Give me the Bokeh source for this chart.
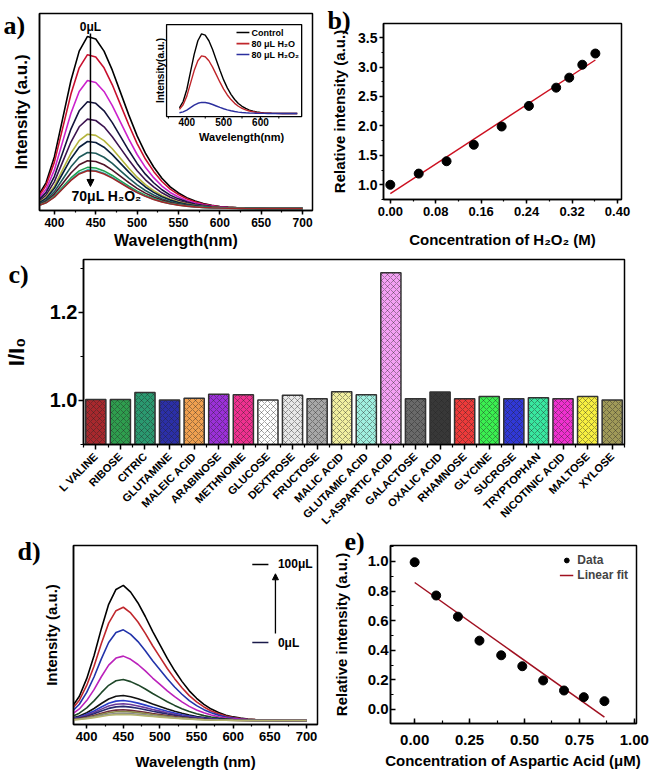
import math
from bokeh.plotting import figure
from bokeh.models import (Range1d, SingleIntervalTicker, FixedTicker, Label, Arrow,
                          NormalHead, Legend, LegendItem, ColumnDataSource,
                          PrintfTickFormatter, GridBox)
from bokeh.core.properties import value
from bokeh.embed import file_html
from bokeh.resources import INLINE

FONT = "Liberation Sans"
SERIF = "Liberation Serif"

# ---------------- data ----------------
wavelength = list(range(380, 701, 10))
# normalised emission profile (top curve)
a_shape = [0.07, 0.15, 0.30, 0.52, 0.74, 0.91, 0.995, 0.98, 0.91, 0.80, 0.67,
           0.54, 0.42, 0.32, 0.24, 0.175, 0.125, 0.09, 0.063, 0.043, 0.029,
           0.019, 0.012, 0.008, 0.005, 0.003, 0.002, 0.001, 0.0, 0.0, 0.0, 0.0, 0.0]
a_peaks = [888, 795, 663, 555, 466, 389, 352, 296, 254, 220, 207, 203]
a_base = 10
a_colors = ["#000000", "#c8102e", "#cc22cc", "#14143c", "#3c1450", "#b4b43c",
            "#0a1e3c", "#1e5a5a", "#501428", "#1ea050", "#28b4b4", "#a02828"]

inset_peaks = [902, 663, 155]
inset_base = 33
inset_names = ["Control", "80 \u03bcL H\u2082O", "80 \u03bcL H\u2082O\u2082"]
inset_colors = ["#000000", "#c0262b", "#2b2f9e"]
inset_ticks = [400, 500, 600]
inset_minor = [350, 450, 550, 650]

b_x = [0.0, 0.050, 0.099, 0.147, 0.196, 0.244, 0.292, 0.315, 0.338, 0.361]
b_y = [1.00, 1.19, 1.40, 1.68, 1.99, 2.34, 2.65, 2.82, 3.04, 3.23]
b_fit_x = [0.0, 0.361]
b_fit_y = [0.85, 3.12]

c_cats = ["L VALINE", "RIBOSE", "CITRIC", "GLUTAMINE", "MALEIC ACID", "ARABINOSE",
          "METHNOINE", "GLUCOSE", "DEXTROSE", "FRUCTOSE", "MALIC ACID",
          "GLUTAMIC ACID", "L-ASPARTIC ACID", "GALACTOSE", "OXALIC ACID",
          "RHAMNOSE", "GLYCINE", "SUCROSE", "TRYPTOPHAN", "NICOTINIC ACID",
          "MALTOSE", "XYLOSE"]
c_vals = [1.002, 1.002, 1.018, 1.001, 1.005, 1.014, 1.013, 1.001, 1.012, 1.004,
          1.020, 1.013, 1.290, 1.004, 1.019, 1.004, 1.009, 1.004, 1.006, 1.004,
          1.009, 1.001]
c_colors = ["#a8282d", "#2e9e4e", "#2a9a70", "#2b2fa8", "#f0a050", "#9b30d8",
            "#f03090", "#ffffff", "#e8e8e8", "#a8a8a8", "#f2f0a0", "#a0f0e0",
            "#f4a0f4", "#6a6a6a", "#383838", "#ee3a3a", "#3af050", "#3038d8",
            "#38e8a0", "#f030d0", "#f8f040", "#a09a58"]

d_shape = [0.10, 0.18, 0.31, 0.48, 0.68, 0.86, 0.97, 1.0, 0.95, 0.87, 0.77,
           0.66, 0.56, 0.46, 0.37, 0.29, 0.22, 0.165, 0.12, 0.085, 0.06, 0.04,
           0.027, 0.018, 0.012, 0.008, 0.005, 0.003, 0.002, 0.001, 0.0, 0.0, 0.0]
d_peaks = [777, 655, 529, 382, 251, 162, 134, 116, 101, 82, 73, 63, 56]
d_base = 22
d_colors = ["#000000", "#c0282d", "#2233aa", "#bb22bb", "#1e4628", "#111111",
            "#2a3cc8", "#6a3a9a", "#28286e", "#6e2a3c", "#8a8a46", "#8c8c8c", "#b4b46e"]

e_x = [0.0, 0.098, 0.197, 0.295, 0.394, 0.49, 0.585, 0.68, 0.77, 0.864]
e_y = [0.995, 0.77, 0.627, 0.465, 0.366, 0.292, 0.196, 0.128, 0.083, 0.056]
e_fit_x = [0.0, 0.864]
e_fit_y = [0.858, -0.052]

panel_letters = ["a)", "b)", "c)", "d)", "e)"]


# ---------------- helpers ----------------
def no_align(p):
    try:
        p.frame_align = False
    except Exception:
        pass


def mkfig(w, h, xr, yr, l, r, t, b):
    p = figure(width=w, height=h, x_range=Range1d(*xr), y_range=Range1d(*yr),
               output_backend="svg", toolbar_location=None,
               min_border_left=l, min_border_right=r, min_border_top=t,
               min_border_bottom=b)
    no_align(p)
    p.outline_line_color = "black"
    p.outline_line_width = 1.5
    p.grid.visible = False
    p.background_fill_color = "white"
    p.border_fill_color = "white"
    for ax in p.axis:
        ax.axis_line_width = 1.5
        ax.axis_line_color = "black"
        ax.major_tick_line_width = 1.5
        ax.minor_tick_line_width = 1.2
        ax.major_tick_out = 4
        ax.major_tick_in = 0
        ax.minor_tick_out = 2
        ax.minor_tick_in = 0
        ax.major_label_text_font = FONT
        ax.major_label_text_font_style = "bold"
        ax.major_label_text_color = "black"
        ax.axis_label_text_font = FONT
        ax.axis_label_text_font_style = "bold"
        ax.axis_label_text_color = "black"
    return p


def label(p, x, y, text, size, font=FONT, align="left", baseline="top",
          angle=0.0, xr="default", yr="default"):
    p.add_layout(Label(x=x, y=y, text=text, text_font=font, text_font_size=size,
                       text_font_style="bold", text_align=align,
                       text_baseline=baseline, angle=angle,
                       x_range_name=xr, y_range_name=yr, text_color="black"))


# ---------------- panel a ----------------
AX = (382, 712)
AY = (0, 1000)
pa = mkfig(328, 253, AX, AY, 39, 16, 13, 43)
for pk, col in zip(a_peaks, a_colors):
    ys = [a_base + (pk - a_base) * s for s in a_shape]
    pa.line(wavelength, ys, line_color=col, line_width=1.6)
pa.xaxis.ticker = SingleIntervalTicker(interval=50, num_minor_ticks=2)
pa.xaxis.major_label_text_font_size = "12px"
pa.xaxis.major_label_standoff = 3
pa.xaxis.axis_label = "Wavelength(nm)"
pa.xaxis.axis_label_text_font_size = "16px"
pa.xaxis.axis_label_standoff = 2
pa.yaxis.ticker = FixedTicker(ticks=[])
pa.yaxis.major_tick_out = 0
pa.yaxis.axis_label = "Intensity (a.u.)"
pa.yaxis.axis_label_text_font_size = "17px"
pa.yaxis.axis_label_standoff = 9

# inset (own coordinate system through extra ranges)
IX = (345, 712)
IY = (0, 1000)
box_x = (535.6, 698.9)   # inset frame in main x units
box_y = (477, 944)       # inset frame in main y units
sx = (IX[1] - IX[0]) / (box_x[1] - box_x[0])
sy = (IY[1] - IY[0]) / (box_y[1] - box_y[0])
pa.extra_x_ranges = {"ix": Range1d(IX[0] - (box_x[0] - AX[0]) * sx,
                                   IX[1] + (AX[1] - box_x[1]) * sx)}
pa.extra_y_ranges = {"iy": Range1d(IY[0] - (box_y[0] - AY[0]) * sy,
                                   IY[1] + (AY[1] - box_y[1]) * sy)}
pa.quad(left=IX[0], right=IX[1], bottom=IY[0], top=IY[1], fill_color="white",
        line_color="black", line_width=1.3, x_range_name="ix", y_range_name="iy")
for pk, col in zip(inset_peaks, inset_colors):
    ys = [inset_base + (pk - inset_base) * s for s in a_shape]
    pa.line(wavelength, ys, line_color=col, line_width=1.4,
            x_range_name="ix", y_range_name="iy")
pa.segment(x0=inset_ticks, y0=[0] * 3, x1=inset_ticks, y1=[-38] * 3,
           line_color="black", line_width=1.2, x_range_name="ix", y_range_name="iy")
pa.segment(x0=inset_minor, y0=[0] * 4, x1=inset_minor, y1=[-22] * 4,
           line_color="black", line_width=1.0, x_range_name="ix", y_range_name="iy")
src_it = ColumnDataSource(dict(x=inset_ticks, y=[0] * 3, t=[str(v) for v in inset_ticks]))
pa.text(x="x", y="y", text="t", source=src_it, y_offset=1, text_align="center",
        text_baseline="top", text_font=value(FONT), text_font_style="bold",
        text_font_size="10px", text_color="black",
        x_range_name="ix", y_range_name="iy")
label(pa, 549, -220, "Wavelength(nm)", "11px", align="center", baseline="middle",
      xr="ix", yr="iy")
label(pa, 329, 500, "Intensity(a.u.)", "10px", align="center", baseline="middle",
      angle=math.pi / 2, xr="ix", yr="iy")
# inset legend (swatch + text)
inset_leg_y = [913, 793, 674]
for yy, col, nm in zip(inset_leg_y, inset_colors, inset_names):
    pa.add_layout(Arrow(end=None, x_start=535, y_start=yy, x_end=570, y_end=yy,
                        line_color=col, line_width=1.6,
                        x_range_name="ix", y_range_name="iy"))
    label(pa, 576, yy, nm, "9px", align="left", baseline="middle", xr="ix", yr="iy")

# annotations of panel a
label(pa, 443.6, 929, "0\u03bcL", "12px", align="center", baseline="middle")
pa.add_layout(Arrow(end=NormalHead(size=7, fill_color="black", line_color="black"),
                    x_start=443.6, y_start=898, x_end=443.6, y_end=122,
                    line_color="black", line_width=1.5))
label(pa, 463, 76, "70\u03bcL H\u2082O\u2082", "14px", align="center", baseline="middle")

# ---------------- panel b ----------------
pb = mkfig(322, 253, (-0.012, 0.407), (0.75, 3.74), 50, 29, 23, 54)
pb.line(b_fit_x, b_fit_y, line_color="#cc1020", line_width=1.4)
pb.scatter(b_x, b_y, size=9, fill_color="black", line_color="black")
pb.xaxis.ticker = SingleIntervalTicker(interval=0.08, num_minor_ticks=2)
pb.xaxis.formatter = PrintfTickFormatter(format="%.2f")
pb.yaxis.ticker = SingleIntervalTicker(interval=0.5, num_minor_ticks=2)
pb.yaxis.formatter = PrintfTickFormatter(format="%.1f")
pb.xaxis.major_label_text_font_size = "13px"
pb.yaxis.major_label_text_font_size = "14px"
pb.xaxis.major_label_standoff = 3
pb.yaxis.major_label_standoff = 2
pb.xaxis.axis_label = "Concentration of H\u2082O\u2082 (M)"
pb.yaxis.axis_label = "Relative intensity (a.u.)"
pb.xaxis.axis_label_text_font_size = "15px"
pb.yaxis.axis_label_text_font_size = "15px"
pb.xaxis.axis_label_standoff = 12
pb.yaxis.axis_label_standoff = 7

# ---------------- panel c ----------------
pc = mkfig(650, 280, (-0.5, 21.5), (0.9, 1.32), 68, 26, 6, 86)
csrc = ColumnDataSource(dict(x=list(range(len(c_cats))), top=c_vals, color=c_colors))
pc.vbar(x="x", top="top", bottom=0, width=0.82, source=csrc, fill_color="color",
        line_color="#333333", line_width=1.5, hatch_pattern="x",
        hatch_color="#222222", hatch_alpha=0.5, hatch_scale=6, hatch_weight=0.8)
pc.xaxis.ticker = FixedTicker(ticks=list(range(len(c_cats))),
                              minor_ticks=[i + 0.5 for i in range(-1, len(c_cats))])
pc.xaxis.major_label_overrides = {i: c for i, c in enumerate(c_cats)}
pc.xaxis.major_label_orientation = math.pi / 4
pc.xaxis.major_label_text_font_size = "11px"
pc.xaxis.major_tick_out = 5
pc.xaxis.minor_tick_out = 3
pc.yaxis.ticker = FixedTicker(ticks=[1.0, 1.2], minor_ticks=[0.9, 1.1, 1.3])
pc.yaxis.formatter = PrintfTickFormatter(format="%.1f")
pc.yaxis.major_label_text_font_size = "20px"
pc.yaxis.major_tick_out = 5
pc.yaxis.minor_tick_out = 3
pc.yaxis.major_label_standoff = 1
pc.yaxis.axis_label = "I/I\u2080"
pc.yaxis.axis_label_text_font_size = "22px"
pc.yaxis.axis_label_standoff = 18

# ---------------- panel d ----------------
DX = (382, 715)
pd = mkfig(328, 240, DX, (0, 1000), 73, 11, 12, 49)
for pk, col in zip(d_peaks, d_colors):
    ys = [d_base + (pk - d_base) * s for s in d_shape]
    pd.line(wavelength, ys, line_color=col, line_width=1.6)
pd.xaxis.ticker = SingleIntervalTicker(interval=50, num_minor_ticks=2)
pd.xaxis.major_label_text_font_size = "13px"
pd.xaxis.major_label_standoff = 3
pd.xaxis.axis_label = "Wavelength (nm)"
pd.xaxis.axis_label_text_font_size = "15px"
pd.xaxis.axis_label_standoff = 9
pd.yaxis.ticker = FixedTicker(ticks=[])
pd.yaxis.major_tick_out = 0
pd.yaxis.axis_label = "Intensity (a.u.)"
pd.yaxis.axis_label_text_font_size = "15px"
pd.yaxis.axis_label_standoff = 14
pd.add_layout(Arrow(end=None, x_start=626, y_start=894, x_end=648, y_end=894,
                    line_color="black", line_width=1.5))
pd.add_layout(Arrow(end=None, x_start=626, y_start=458, x_end=648, y_end=458,
                    line_color="#1a1a4a", line_width=1.5))
pd.add_layout(Arrow(end=NormalHead(size=6, fill_color="black", line_color="black"),
                    x_start=657.6, y_start=508, x_end=657.6, y_end=842,
                    line_color="black", line_width=1.3))
label(pd, 661, 894, "100\u03bcL", "12px", align="left", baseline="middle")
label(pd, 661, 458, "0\u03bcL", "12px", align="left", baseline="middle")

# ---------------- panel e ----------------
pe = mkfig(322, 240, (-0.11, 1.01), (-0.095, 1.108), 62, 14, 12, 50)
for ax in pe.axis:
    ax.major_tick_in = 5
    ax.major_tick_out = 0
    ax.minor_tick_in = 3
    ax.minor_tick_out = 0
r_fit = pe.line(e_fit_x, e_fit_y, line_color="#a01020", line_width=1.5)
r_dat = pe.scatter(e_x, e_y, size=9, fill_color="black", line_color="black")
pe.xaxis.ticker = SingleIntervalTicker(interval=0.25, num_minor_ticks=2)
pe.xaxis.formatter = PrintfTickFormatter(format="%.2f")
pe.yaxis.ticker = SingleIntervalTicker(interval=0.2, num_minor_ticks=2)
pe.yaxis.formatter = PrintfTickFormatter(format="%.1f")
pe.xaxis.major_label_text_font_size = "15px"
pe.yaxis.major_label_text_font_size = "15px"
pe.xaxis.major_label_standoff = 11
pe.yaxis.major_label_standoff = 2
pe.xaxis.axis_label = "Concentration of Aspartic Acid (\u03bcM)"
pe.yaxis.axis_label = "Relative intensity (a.u.)"
pe.xaxis.axis_label_text_font_size = "15px"
pe.yaxis.axis_label_text_font_size = "15px"
pe.xaxis.axis_label_standoff = 4
pe.yaxis.axis_label_standoff = 15
leg_e = Legend(items=[LegendItem(label="Data", renderers=[r_dat]),
                      LegendItem(label="Linear fit", renderers=[r_fit])],
               location="top_right", spacing=1, label_height=12, glyph_height=12,
               glyph_width=14, label_standoff=4, padding=0, margin=8,
               border_line_color=None, background_fill_alpha=0,
               label_text_font=FONT, label_text_font_style="bold",
               label_text_font_size="12px")
pe.add_layout(leg_e)

# ---------------- overlay with panel letters ----------------
ov = figure(width=650, height=773, x_range=Range1d(0, 650), y_range=Range1d(773, 0),
            output_backend="svg", toolbar_location=None, min_border=0,
            x_axis_type=None, y_axis_type=None)
no_align(ov)
ov.outline_line_color = None
ov.background_fill_color = None
ov.border_fill_color = None
ov.grid.visible = False
letter_pos = [(3, 25), (327, 20), (8, 274), (17, 551), (344, 541)]
for (lx, ly), t in zip(letter_pos, panel_letters):
    label(ov, lx, ly, t, "26px", font=SERIF, align="left", baseline="alphabetic")

layout = GridBox(children=[(pa, 0, 0), (pb, 0, 1), (pc, 1, 0, 1, 2),
                           (pd, 2, 0), (pe, 2, 1), (ov, 0, 0, 3, 2)])
open("out.html", "w").write(file_html(layout, INLINE))
